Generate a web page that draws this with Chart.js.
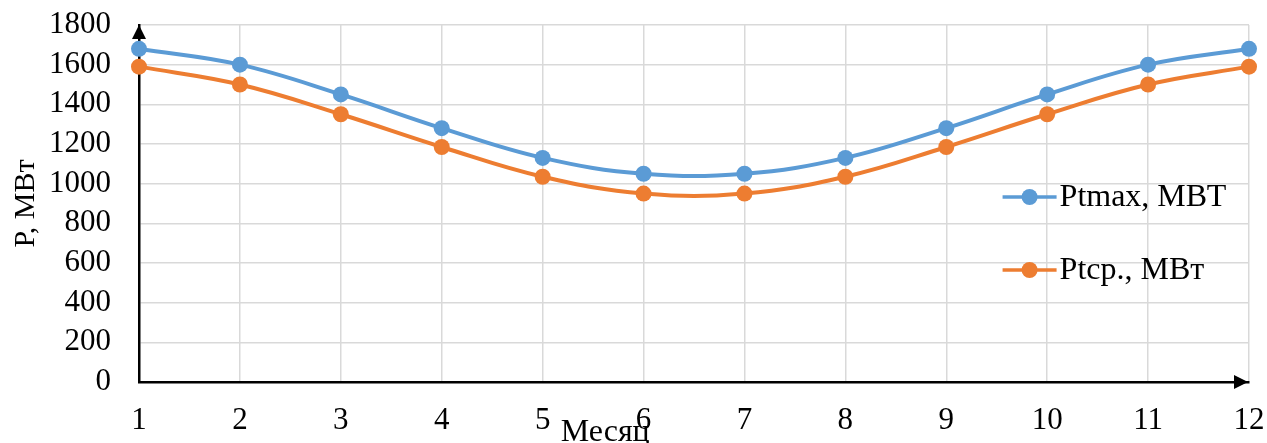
<!DOCTYPE html>
<html>
<head>
<meta charset="utf-8">
<script src="https://cdn.jsdelivr.net/npm/chart.js@4.4.1/dist/chart.umd.min.js"></script>
<style>
  html, body { margin: 0; padding: 0; background: #ffffff; }
  #wrap { width: 1267px; height: 443px; position: relative; }
</style>
</head>
<body>
<div id="wrap"><canvas id="chart" width="1267" height="443"></canvas></div>
<script>
// Months of the year
const months = ['1', '2', '3', '4', '5', '6', '7', '8', '9', '10', '11', '12'];
// Maximum load per month, MW
const pMax = [1680, 1600, 1450, 1280, 1130, 1050, 1050, 1130, 1280, 1450, 1600, 1680];
// Average load per month, MW
const pAvg = [1590, 1500, 1350, 1185, 1035, 950, 950, 1035, 1185, 1350, 1500, 1590];
// Y axis range and step
const yMin = 0, yMax = 1800, yStep = 200;

const FONT = '"Liberation Serif", "Times New Roman", serif';
const FS = 31;

// Arrowheads on both axes, the x axis title and the in-plot legend
const decor = {
  id: 'decor',
  afterDraw(chart) {
    const { ctx, chartArea: a } = chart;
    ctx.save();
    ctx.fillStyle = '#000';
    // y axis arrow
    ctx.beginPath();
    ctx.moveTo(a.left, a.top);
    ctx.lineTo(a.left - 7, a.top + 14);
    ctx.lineTo(a.left + 7, a.top + 14);
    ctx.closePath();
    ctx.fill();
    // x axis arrow
    ctx.beginPath();
    ctx.moveTo(a.right - 1, a.bottom);
    ctx.lineTo(a.right - 15, a.bottom - 7);
    ctx.lineTo(a.right - 15, a.bottom + 7);
    ctx.closePath();
    ctx.fill();

    // x axis title
    ctx.font = '32px ' + FONT;
    ctx.textAlign = 'center';
    ctx.textBaseline = 'alphabetic';
    ctx.fillText('Месяц', a.left + (a.right - a.left) * 0.42, 441);

    // legend
    const items = chart.data.datasets;
    const lx = a.left + (a.right - a.left) * 0.778;
    const rows = [a.top + 172, a.top + 245];
    items.forEach((ds, i) => {
      const y = rows[i];
      ctx.strokeStyle = ds.borderColor;
      ctx.lineWidth = 3.5;
      ctx.beginPath();
      ctx.moveTo(lx, y);
      ctx.lineTo(lx + 54, y);
      ctx.stroke();
      ctx.fillStyle = ds.backgroundColor;
      ctx.beginPath();
      ctx.arc(lx + 27, y, 8, 0, Math.PI * 2);
      ctx.fill();
      ctx.fillStyle = '#000';
      ctx.font = '32px ' + FONT;
      ctx.textAlign = 'left';
      ctx.textBaseline = 'middle';
      ctx.fillText(ds.label, lx + 57, y + 1);
    });
    ctx.restore();
  }
};

new Chart(document.getElementById('chart'), {
  type: 'line',
  data: {
    labels: months,
    datasets: [
      {
        label: 'Ptmax, МВТ',
        data: pMax,
        borderColor: '#5B9BD5',
        backgroundColor: '#5B9BD5',
        borderWidth: 4,
        pointRadius: 8,
        pointHoverRadius: 8,
        pointBorderWidth: 0,
        tension: 0.4
      },
      {
        label: 'Ptср., МВт',
        data: pAvg,
        borderColor: '#ED7D31',
        backgroundColor: '#ED7D31',
        borderWidth: 4,
        pointRadius: 8,
        pointHoverRadius: 8,
        pointBorderWidth: 0,
        tension: 0.4
      }
    ]
  },
  plugins: [decor],
  options: {
    responsive: false,
    animation: false,
    layout: { padding: { top: 25, right: 18, left: 0, bottom: 0 } },
    plugins: {
      legend: { display: false },
      tooltip: { enabled: false }
    },
    scales: {
      x: {
        type: 'category',
        offset: false,
        afterFit(s) { s.height = 61; s.paddingLeft = 0; s.paddingRight = 0; },
        grid: { color: '#d9d9d9', lineWidth: 1.5, drawTicks: false },
        border: { color: '#000', width: 2.5 },
        ticks: {
          color: '#000',
          font: { family: FONT, size: FS },
          padding: 20,
          maxRotation: 0,
          autoSkip: false
        }
      },
      y: {
        min: yMin,
        max: yMax,
        afterFit(s) { s.width = 139; s.paddingTop = 0; s.paddingBottom = 0; },
        grid: { color: '#d9d9d9', lineWidth: 1.5, drawTicks: false },
        border: { color: '#000', width: 2.5 },
        ticks: {
          stepSize: yStep,
          color: '#000',
          font: { family: FONT, size: FS },
          padding: 28,
          autoSkip: false,
          callback: (v) => String(v)
        },
        title: {
          display: true,
          text: 'P, МВт',
          color: '#000',
          font: { family: FONT, size: 30 },
          padding: { top: 8, bottom: 0 }
        }
      }
    }
  }
});
</script>
</body>
</html>
